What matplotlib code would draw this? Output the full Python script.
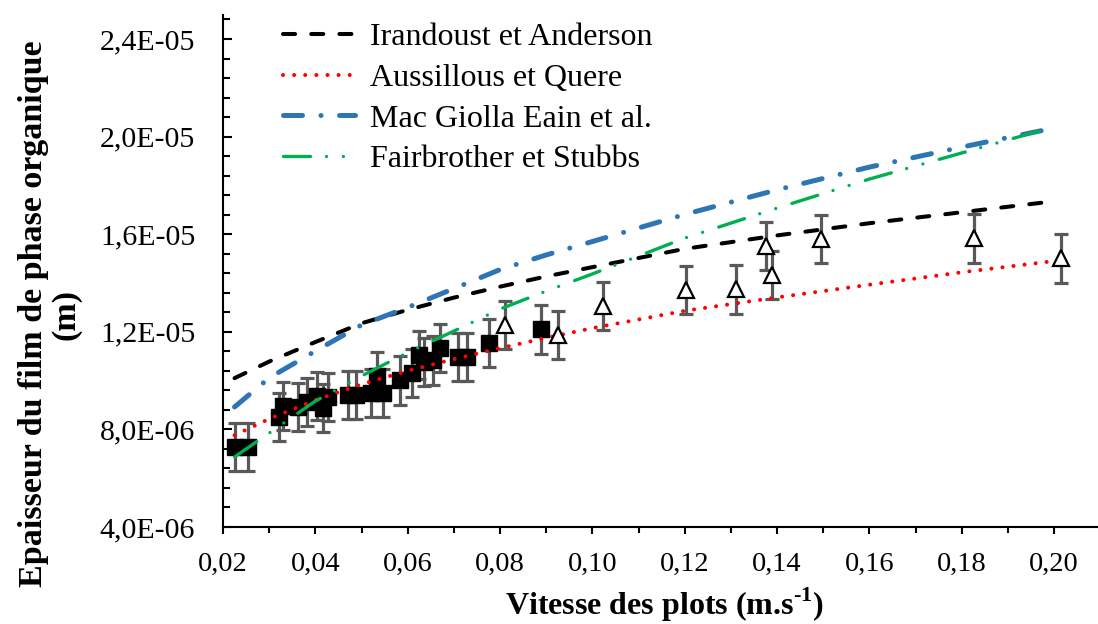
import matplotlib
matplotlib.use("Agg")
import matplotlib.pyplot as plt
from matplotlib.ticker import MultipleLocator, FuncFormatter

plt.rcParams['font.family'] = ['Liberation Serif', 'DejaVu Serif']
plt.rcParams['mathtext.fontset'] = 'custom'
plt.rcParams['mathtext.rm'] = 'Liberation Serif:bold'

# Modeles
mod_x = [0.0225, 0.03, 0.04, 0.05, 0.06, 0.07, 0.08, 0.09, 0.10, 0.12, 0.14, 0.16, 0.18, 0.20]
irandoust = [1.01e-5, 1.078e-5, 1.158e-5, 1.235e-5, 1.29e-5, 1.34e-5, 1.385e-5, 1.427e-5, 1.465e-5,
             1.54e-5, 1.595e-5, 1.645e-5, 1.69e-5, 1.735e-5]
aussillous = [7.76e-6, 8.43e-6, 9.2e-6, 9.85e-6, 1.04e-5, 1.088e-5, 1.133e-5, 1.175e-5, 1.215e-5,
              1.286e-5, 1.341e-5, 1.393e-5, 1.444e-5, 1.49e-5]
mac_giolla = [8.92e-6, 1.011e-5, 1.121e-5, 1.228e-5, 1.30e-5, 1.377e-5, 1.455e-5, 1.515e-5, 1.57e-5,
              1.681e-5, 1.782e-5, 1.875e-5, 1.957e-5, 2.035e-5]
fairbrother = [6.87e-6, 7.85e-6, 9.16e-6, 1.019e-5, 1.115e-5, 1.203e-5, 1.293e-5, 1.367e-5, 1.437e-5,
               1.584e-5, 1.707e-5, 1.826e-5, 1.933e-5, 2.04e-5]

# Mesures (carres pleins)
sq_x = [0.0226, 0.0254, 0.0321, 0.0330, 0.0362, 0.0381, 0.0403, 0.0416, 0.0427, 0.0470, 0.0489,
        0.0520, 0.0533, 0.0546, 0.0584, 0.0610, 0.0625, 0.0636, 0.0654, 0.0669, 0.0708, 0.0729,
        0.0775, 0.0889]
sq_y = [7.28e-6, 7.28e-6, 8.51e-6, 8.96e-6, 8.92e-6, 9.12e-6, 9.37e-6, 8.88e-6, 9.33e-6, 9.41e-6,
        9.41e-6, 9.49e-6, 1.019e-5, 9.49e-6, 1.002e-5, 1.031e-5, 1.105e-5, 1.076e-5, 1.084e-5,
        1.134e-5, 1.097e-5, 1.097e-5, 1.154e-5, 1.211e-5]

# Mesures (triangles vides)
tr_x = [0.0811, 0.0926, 0.1023, 0.1202, 0.1312, 0.1377, 0.1388, 0.1496, 0.1826, 0.2014]
tr_y = [1.228e-5, 1.187e-5, 1.306e-5, 1.371e-5, 1.375e-5, 1.552e-5, 1.433e-5, 1.58e-5, 1.584e-5, 1.502e-5]

err = 1.0e-6

fig = plt.figure(figsize=(10.98, 6.24), dpi=100)
ax = fig.add_axes([223 / 1098, 1 - 527 / 624, 1 - 223 / 1098, (527 - 14.6) / 624])

gris = '#595959'
ax.errorbar(sq_x, sq_y, yerr=err, fmt='none', ecolor=gris, elinewidth=2.3, capsize=5, capthick=2.3, zorder=2)
ax.errorbar(tr_x, tr_y, yerr=err, fmt='none', ecolor=gris, elinewidth=2.3, capsize=5, capthick=2.3, zorder=2)
ax.plot(sq_x, sq_y, 's', color='black', ms=11, zorder=3)

ax.plot(mod_x, irandoust, color='black', lw=2.9, ls=(0, (3, 4)), dash_capstyle='round',
        label='Irandoust et Anderson', zorder=4)
ax.plot(mod_x, aussillous, color='#ff0000', lw=2.9, ls=(0, (0.01, 2.75)), dash_capstyle='round',
        label='Aussillous et Quere', zorder=4)
ax.plot(mod_x, mac_giolla, color='#2e75b6', lw=3.6, ls=(0, (3.8, 3.7, 0.01, 3.7)), dash_capstyle='round',
        label='Mac Giolla Eain et al.', zorder=4)
ax.plot(mod_x, fairbrother, color='#00b050', lw=2.4, ls=(0, (8.1, 4.8, 0.01, 5.05, 0.01, 5.1)),
        dash_capstyle='round', label='Fairbrother et Stubbs', zorder=4)

ax.plot(tr_x, tr_y, '^', mfc='white', mec='black', mew=1.6, ms=12, zorder=5)

ax.set_xlim(0.02, 0.2095)
ax.set_ylim(4e-6, 2.5e-5)
ax.xaxis.set_major_locator(MultipleLocator(0.02))
ax.xaxis.set_minor_locator(MultipleLocator(0.01))
ax.yaxis.set_major_locator(MultipleLocator(4e-6))
ax.yaxis.set_minor_locator(MultipleLocator(0.8e-6))
ax.xaxis.set_major_formatter(FuncFormatter(lambda v, p: f"{v:.2f}".replace('.', ',')))
ax.yaxis.set_major_formatter(FuncFormatter(lambda v, p: f"{v:.1E}".replace('.', ',')))

for s in ['top', 'right']:
    ax.spines[s].set_visible(False)
for s in ['left', 'bottom']:
    ax.spines[s].set_linewidth(1.5)
ax.tick_params(axis='x', which='major', direction='out', length=5, width=1.5, labelsize=20.5, pad=13)
ax.tick_params(axis='x', which='minor', direction='out', length=4.5, width=1.5)
ax.tick_params(axis='y', which='major', direction='in', length=6.7, width=1.5, labelsize=21.5, pad=20)
ax.tick_params(axis='y', which='minor', direction='in', length=5, width=1.5)

fig.text(665 / 1098, 1 - 605 / 624, 'Vitesse des plots (m.s$^{\\text{-1}}$)', fontsize=23,
         fontweight='bold', ha='center', va='center')
fig.text(50 / 1098, 1 - 314 / 624, 'Epaisseur du film de phase organique\n(m)', fontsize=24.5,
         fontweight='bold', ha='center', va='center', rotation=90, multialignment='center',
         linespacing=1.05)

fig.legend(loc='upper left', bbox_to_anchor=(283 / 1098, 0.964), frameon=False, fontsize=23,
           handlelength=2.25, handletextpad=0.48, labelspacing=0.36, borderpad=0, borderaxespad=0)

fig.savefig('out.png', dpi=100)
